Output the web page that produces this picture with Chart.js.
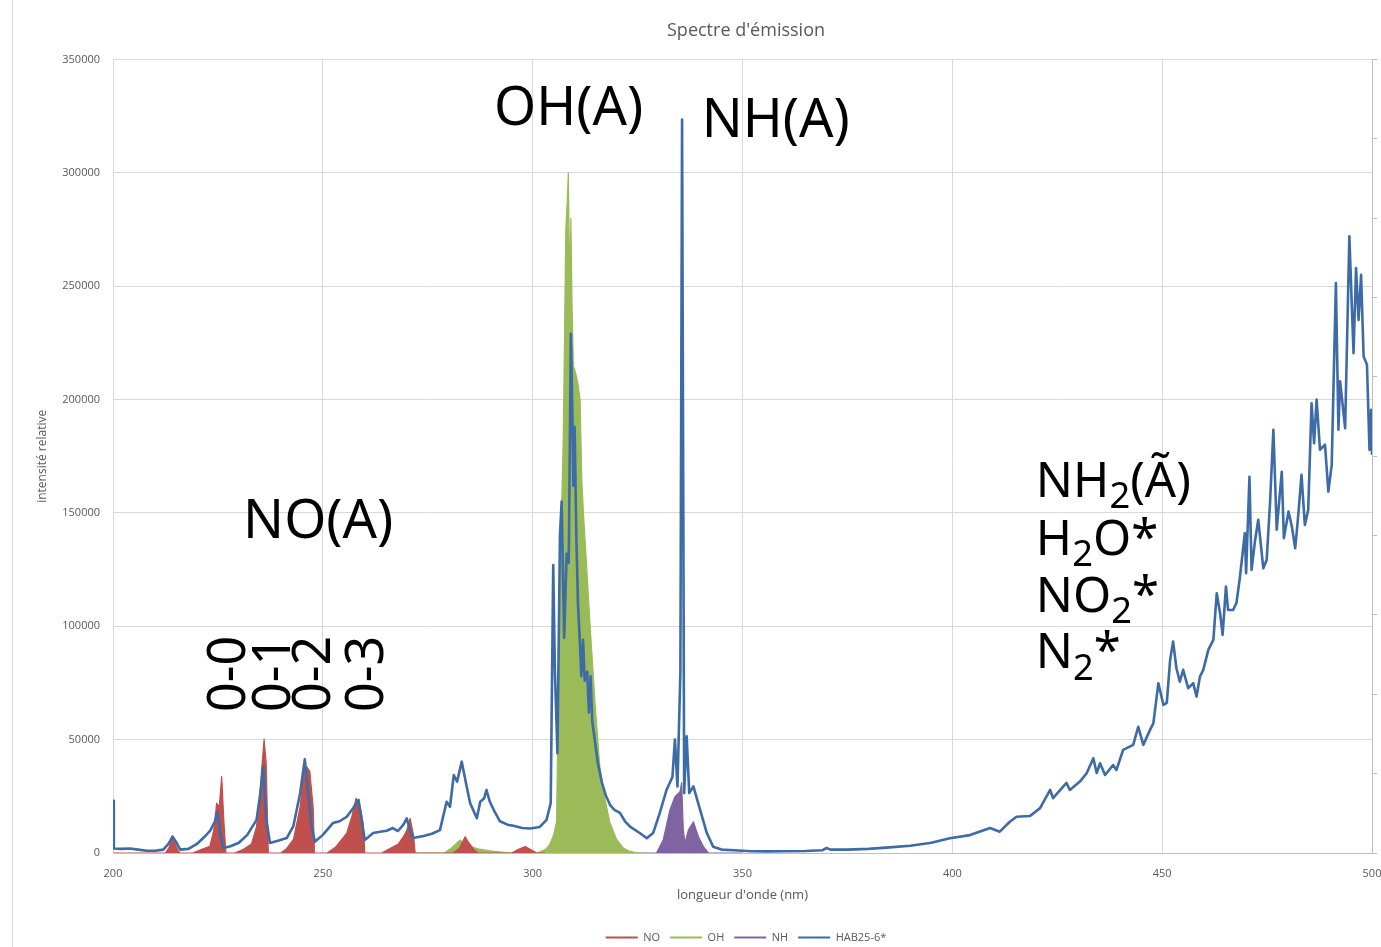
<!DOCTYPE html>
<html><head><meta charset="utf-8">
<script src="https://cdn.jsdelivr.net/npm/chart.js@4"></script>
<style>
html,body{margin:0;padding:0;overflow:hidden;background:#fff;width:1381px;height:947px;}
#wrap{position:absolute;left:0;top:0;width:1492px;height:953px;}
#frame{position:absolute;left:12px;top:0;width:1px;height:947px;background:#d9d9d9;}
</style></head><body>
<div id="wrap"><canvas id="c" width="1492" height="953"></canvas></div>
<div id="frame"></div>
<script>
// ---- data (wavelength nm, relative intensity) ----
const seriesNames = ['NO', 'OH', 'NH', 'HAB25-6*'];
const xTicks = [200, 250, 300, 350, 400, 450, 500];
const yTicks = [0, 50000, 100000, 150000, 200000, 250000, 300000, 350000];

const HAB = [
[200.0,23000],[200.2,2000],[202,1800],[204,2000],[206,1500],[208,1000],[210,1000],[212,1500],
[213.2,4000],[214.2,7200],[215.0,5000],[216.0,1500],[218,1800],[220,4000],[222,7500],[223.2,10000],
[224.3,14000],[224.9,18200],[225.6,8000],[226.3,2200],[228,3000],[230,4500],[232,8000],[234.2,14600],
[235.0,25000],[235.8,38000],[236.5,15000],[237.4,4400],[239.5,5500],[241.4,6600],[243.0,12000],[244.6,26500],
[245.7,41300],[246.6,25000],[247.3,12000],[248.1,5000],[250,8000],[252.4,13200],[254,14000],[255.7,16000],
[257.3,20000],[258.5,23400],[259.3,14000],[260.0,5700],[262,8800],[264,9500],[265.2,9800],[266.7,11000],
[267.9,9700],[269.2,12500],[270.0,15300],[270.8,10000],[271.5,6600],[274,7500],[276,8500],[277.9,10100],
[279.5,22600],[280.3,20400],[281.2,34400],[282.0,31500],[283.1,40300],[284.2,30000],[285.1,22000],[286.7,15300],
[287.5,22600],[288.4,24000],[289.0,27800],[289.8,22600],[291,18000],[292.2,14000],[294,12500],[295.4,12000],
[297.5,11000],[299.4,10800],[301.7,11500],[303.3,14600],[304.3,22000],[304.9,127000],[305.3,80000],[305.9,44000],
[306.5,140000],[306.9,155000],[307.5,95000],[308.1,132000],[308.6,128000],[309.1,229000],[309.4,200000],[309.7,162000],
[310.0,188000],[310.4,140000],[310.8,110000],[311.2,95000],[311.6,78000],[312.0,94000],[312.4,76000],[313.0,80000],
[313.4,62000],[313.8,78000],[314.2,58000],[314.8,50000],[315.5,40000],[316.5,31000],[317.5,25000],[318.5,21000],
[319.5,19000],[320.8,17700],[322,14000],[323.2,11600],[325.6,8700],[327.2,6500],[328.7,8800],[330.3,17700],
[331.9,27800],[333.3,33500],[333.9,50000],[334.5,29400],[335.2,80000],[335.6,323600],[335.9,150000],[336.1,26500],
[336.7,51500],[337.3,26500],[338.3,29400],[339.9,19000],[341.5,8800],[343.0,2800],[345,1500],[348,1200],
[352,800],[356,700],[360,800],[365,900],[369,1200],[370,2200],[371,1500],[375,1500],
[380,1800],[385,2500],[390,3200],[395,4500],[399.4,6500],[404.2,7900],[409.0,11000],[411.3,9400],
[413.7,13800],[415.3,16000],[418.5,16300],[420.9,19800],[423.3,27800],[424.0,24200],[427.2,30900],[428.0,27800],
[430.4,31500],[432.0,35200],[433.6,41800],[434.4,35300],[435.2,39600],[436.4,34400],[438.3,38800],[439.1,36600],
[440.7,45500],[443.1,47700],[444.3,55700],[445.5,47700],[447.1,54300],[447.9,57200],[449.1,74900],[450.3,65300],
[451.1,66200],[451.9,85200],[452.6,93300],[453.4,81500],[454.2,75600],[455.0,80800],[456.2,72700],[457.4,74900],
[458.2,69000],[459.0,77800],[459.8,80800],[461.0,89600],[462.2,94000],[463.0,114600],[463.8,105800],[464.4,96200],
[465.2,117500],[465.7,107200],[466.9,107200],[467.7,110300],[468.5,121200],[469.7,141100],[470.0,123400],[470.8,166000],
[471.3,124900],[472.1,137400],[472.9,147000],[474.1,125600],[474.9,129300],[475.7,154300],[476.5,186700],[477.3,142600],
[478.5,168200],[479.0,138900],[480.1,150600],[480.9,144000],[481.7,134400],[482.4,148500],[483.2,166800],[484.0,144700],
[484.8,151400],[485.6,198400],[486.2,180800],[486.8,200000],[487.6,177900],[488.8,180100],[489.6,159400],[490.4,171200],
[491.4,251400],[492.0,186700],[492.4,208100],[493.6,187400],[494.6,272000],[495.6,220500],[496.2,258000],[496.8,235200],
[497.4,255100],[498.0,219000],[498.8,215400],[499.4,177900],[499.8,195500],[500.0,175700]
];

const NO = [
[200,0],[212.5,0],[213.5,3000],[214.0,7500],[214.6,5000],[215.5,1000],[216,0],[219,0],[221,1500],
[223.1,3000],[224.0,10000],[224.7,22000],[225.3,20000],[225.9,33700],[226.4,14600],[226.9,0],[229,0],
[231,1500],[233,4000],[234.2,11600],[235.0,25000],[235.4,36600],[236.0,50200],[236.5,39700],[237.0,0],
[240,0],[241.4,2000],[243,6000],[244.6,20400],[245.5,37300],[246.2,38000],[246.9,35900],[247.7,20000],[248.0,0],
[251,0],[253,2500],[255.7,8800],[256.9,16000],[257.9,24100],[258.9,20400],[259.6,13200],[260.0,0],
[264,0],[266,2000],[268,4000],[269.2,7200],[270.0,10000],[270.8,15300],[271.6,8000],[272.0,0],
[281,0],[282.5,2000],[283.9,7200],[284.6,5000],[286,1500],[287,0],[295,0],[296.5,1500],[298.2,2800],
[299.5,1500],[301,0],[303,0]
];

const OH = [
[270,0],[279,0],[280.5,2000],[282.0,4500],[282.7,5700],[283.5,4500],[285,3000],[287,1800],[289.8,1000],
[292,500],[295,0],[301,0],[303,1500],[304,3500],[305,8000],[305.7,14000],[306.1,69000],[306.6,128000],
[307.3,184000],[307.6,230000],[307.9,275000],[308.2,286000],[308.5,300000],[308.8,250000],[309.1,280000],
[309.4,240000],[309.7,215000],[310.2,212000],[310.8,207000],[311.3,200000],[311.7,165000],[312.1,150000],
[312.9,125000],[313.7,100000],[314.9,65000],[316.0,38000],[317.2,24000],[318.4,13500],[320,6000],
[321.6,2200],[323,800],[325,0],[327,0]
];

const NH = [
[322,0],[329.5,0],[331.1,5700],[332.7,19000],[333.9,24800],[335.1,27000],[335.5,31000],[335.9,10000],
[336.3,4400],[337.1,10100],[338.3,13800],[339.5,7200],[340.7,2800],[341.9,0],[350,0]
];

// annotation labels: text parts ([text, isSubscript]), anchor (nm, intensity)
const annotTexts = [
  [['OH(A)',0]], [['NH(A)',0]], [['NO(A)',0]],
  [['0-0',0]], [['0-1',0]], [['0-2',0]], [['0-3',0]],
  [['NH',0],['2',1],['(Ã)',0]], [['H',0],['2',1],['O*',0]], [['NO',0],['2',1],['*',0]], [['N',0],['2',1],['*',0]]
];
const annotNm  = [290.8, 340.3, 231.0, 231.45, 242.2, 251.7, 264.3, 419.9, 419.9, 419.9, 419.9];
const annotVal = [321000, 316000, 139000, 62200, 62200, 62200, 62200, 157100, 131500, 106500, 81500];
const annotRot = [0,0,0,1,1,1,1,0,0,0,0];
const annotSize = [54,54,54,52,52,52,52,49,49,49,49];

// ---- chart ----
const RED = '#C0504D', GREEN = '#9BBB59', PURPLE = '#8064A2', BLUE = '#3D6BA6';
const GRID = '#d9d9d9', AXIS = '#bfbfbf', TXT = '#595959';
const pts = arr => arr.map(p => ({x: p[0], y: p[1]}));

const annotPlugin = {
  id: 'annot',
  afterDraw(chart) {
    const {ctx, scales: {x, y}} = chart;
    ctx.save();
    ctx.fillStyle = '#000';
    ctx.textBaseline = 'alphabetic';
    ctx.textAlign = 'left';
    annotTexts.forEach((parts, i) => {
      const px = x.getPixelForValue(annotNm[i]);
      const py = y.getPixelForValue(annotVal[i]);
      const size = annotSize[i];
      ctx.save();
      ctx.translate(px, py);
      if (annotRot[i]) ctx.rotate(-Math.PI / 2);
      let cx = 0;
      parts.forEach(([t, sub]) => {
        const fs = sub ? size * 0.74 : size;
        ctx.font = fs + 'px "Noto Sans"';
        ctx.fillText(t, cx, sub ? size * 0.23 : 0);
        cx += ctx.measureText(t).width;
      });
      ctx.restore();
    });
    ctx.restore();
  }
};

const tickFont = {family: 'Open Sans', size: 11};

new Chart(document.getElementById('c'), {
  type: 'line',
  data: {
    datasets: [
      {label: seriesNames[0], data: pts(NO), borderColor: RED, backgroundColor: RED, fill: 'origin', borderWidth: 1.2, order: 1},
      {label: seriesNames[1], data: pts(OH), borderColor: GREEN, backgroundColor: GREEN, fill: 'origin', borderWidth: 1.2, order: 2},
      {label: seriesNames[2], data: pts(NH), borderColor: PURPLE, backgroundColor: PURPLE, fill: 'origin', borderWidth: 1.2, order: 3},
      {label: seriesNames[3], data: pts(HAB), borderColor: BLUE, backgroundColor: BLUE, fill: false, borderWidth: 2.6, order: 0}
    ]
  },
  options: {
    responsive: false,
    animation: false,
    devicePixelRatio: 1,
    elements: {point: {radius: 0}, line: {tension: 0, borderJoinStyle: 'round'}},
    layout: {padding: 0},
    plugins: {
      title: {display: true, text: "Spectre d'émission", color: TXT,
        font: {family: 'Open Sans', size: 18, weight: 'normal'}, padding: {top: 20, bottom: 18}},
      legend: {position: 'bottom',
        labels: {usePointStyle: true, pointStyle: 'line', pointStyleWidth: 32, padding: 10, color: TXT, font: tickFont,
          sort: (a, b) => a.datasetIndex - b.datasetIndex,
          generateLabels: chart => Chart.defaults.plugins.legend.labels.generateLabels(chart).map(l => Object.assign(l, {lineWidth: 2.2}))
        }},
      tooltip: {enabled: false}
    },
    scales: {
      x: {type: 'linear', min: xTicks[0], max: xTicks[xTicks.length - 1],
        afterBuildTicks: s => { s.ticks = xTicks.map(v => ({value: v})); },
        ticks: {padding: 14, color: TXT, font: tickFont, callback: v => String(v)},
        grid: {color: GRID, drawTicks: false},
        border: {color: AXIS},
        title: {display: true, text: "longueur d'onde (nm)", color: TXT, font: {family: 'Open Sans', size: 13}, padding: {top: 0, bottom: 19}},
        afterFit: s => { s.height = 69; }
      },
      y: {min: 0, max: yTicks[yTicks.length - 1],
        afterBuildTicks: s => { s.ticks = yTicks.map(v => ({value: v})); },
        ticks: {padding: 13, color: TXT, font: tickFont, callback: v => String(v)},
        grid: {color: GRID, drawTicks: false},
        border: {color: GRID},
        title: {display: true, text: 'intensité relative', color: TXT, font: {family: 'Open Sans', size: 12}, padding: {top: 35, bottom: 0}},
        afterFit: s => { s.width = 113; }
      },
      y2: {position: 'right', min: 0, max: 10,
        ticks: {stepSize: 1, display: false},
        grid: {drawOnChartArea: false, drawTicks: true, tickLength: 5, color: AXIS},
        border: {color: AXIS},
        afterFit: s => { s.width = 120; }
      }
    }
  },
  plugins: [annotPlugin]
});
</script>
</body></html>
